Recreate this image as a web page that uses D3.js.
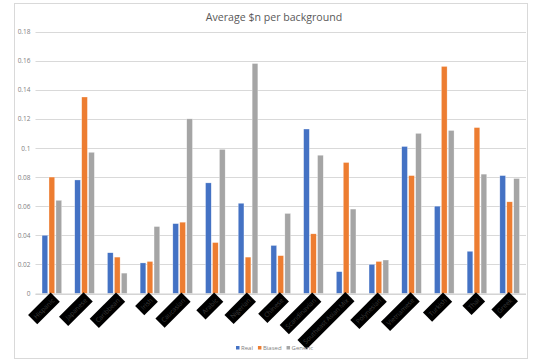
<!DOCTYPE html>
<html>
<head>
<meta charset="utf-8">
<script src="https://cdn.jsdelivr.net/npm/d3@7"></script>
<style>
  html, body { margin: 0; padding: 0; background: #fff; }
  svg { display: block; }
  text { font-family: "Open Sans", "Noto Sans", sans-serif; }
</style>
</head>
<body>
<svg id="chart" width="535" height="363"></svg>
<script>
// Background categories (x axis)
const categories = [
  "Hispanic", "Japanese", "Caribbean", "Irish", "Caucasian",
  "Arabic", "Nigerian", "Chinese", "Scandinavian", "Southeast Asian Mix",
  "Polynesian", "Vietnamese", "Turkish", "Thai", "Greek"
];

// Series names and colours
const seriesNames = ["Real", "Biased", "Generic"];
const seriesColors = ["#4472C4", "#ED7D31", "#A5A5A5"];

// Average $n per background, one array per series
const realValues    = [0.040, 0.078, 0.028, 0.021, 0.048, 0.076, 0.062, 0.033, 0.113, 0.015, 0.020, 0.101, 0.060, 0.029, 0.081];
const biasedValues  = [0.080, 0.135, 0.025, 0.022, 0.049, 0.035, 0.025, 0.026, 0.041, 0.090, 0.022, 0.081, 0.156, 0.114, 0.063];
const genericValues = [0.064, 0.097, 0.014, 0.046, 0.120, 0.099, 0.158, 0.055, 0.095, 0.058, 0.023, 0.110, 0.112, 0.082, 0.079];

// Y axis ticks
const yTicks = [0, 0.02, 0.04, 0.06, 0.08, 0.1, 0.12, 0.14, 0.16, 0.18];

const title = "Average $n per background";

const plot = { left: 35.5, right: 526, top: 31.5, bottom: 293.5 };

const svg = d3.select("#chart");

// Outer chart frame
svg.append("rect")
  .attr("x", 14.5).attr("y", 3.5)
  .attr("width", 513).attr("height", 355)
  .attr("fill", "#fff")
  .attr("stroke", "#d9d9d9")
  .attr("stroke-width", 1);

// Title
svg.append("text")
  .attr("x", 274).attr("y", 21)
  .attr("text-anchor", "middle")
  .attr("font-size", 10.6)
  .attr("fill", "#595959")
  .text(title);

// Scales
const y = d3.scaleLinear().domain([0, 0.18]).range([plot.bottom, plot.top]);
const x = d3.scaleBand().domain(categories).range([plot.left, plot.right])
  .paddingInner(0.4).paddingOuter(0.2);
const xs = d3.scaleBand().domain(seriesNames).range([0, x.bandwidth()]).paddingInner(0.18);

// Gridlines
svg.append("g")
  .selectAll("line")
  .data(yTicks)
  .join("line")
  .attr("x1", plot.left).attr("x2", plot.right)
  .attr("y1", d => Math.round(y(d)) + 0.5)
  .attr("y2", d => Math.round(y(d)) + 0.5)
  .attr("stroke", "#d9d9d9")
  .attr("stroke-width", 1);

// Y axis labels
const yAxis = d3.axisLeft(y)
  .tickValues(yTicks)
  .tickSize(0)
  .tickPadding(0)
  .tickFormat(d => d === 0 ? "0" : String(+d.toFixed(2)));

const yg = svg.append("g")
  .attr("transform", `translate(${plot.left - 5},0)`)
  .call(yAxis);
yg.select(".domain").remove();
yg.selectAll("text")
  .attr("font-size", 6.5)
  .attr("font-family", "'Open Sans', 'Noto Sans', sans-serif")
  .attr("fill", "#7f7f7f");

// Bars
const rows = categories.map((c, i) => ({
  category: c,
  values: [realValues[i], biasedValues[i], genericValues[i]]
}));

const groups = svg.append("g")
  .selectAll("g")
  .data(rows)
  .join("g")
  .attr("transform", d => `translate(${x(d.category)},0)`);

groups.selectAll("rect")
  .data(d => d.values.map((v, k) => ({ name: seriesNames[k], value: v, k })))
  .join("rect")
  .attr("x", d => xs(d.name))
  .attr("y", d => y(d.value))
  .attr("width", xs.bandwidth())
  .attr("height", d => y(0) - y(d.value))
  .attr("fill", d => seriesColors[d.k])
  .attr("stroke", "#ffffff")
  .attr("stroke-opacity", 0.6)
  .attr("stroke-width", 0.5);

// Baseline
svg.append("line")
  .attr("x1", plot.left).attr("x2", plot.right)
  .attr("y1", plot.bottom + 0.5).attr("y2", plot.bottom + 0.5)
  .attr("stroke", "#d0d0d0");

// Category labels: rotated, on dark label boxes
const labels = svg.append("g")
  .selectAll("g")
  .data(categories)
  .join("g")
  .attr("transform", d => `translate(${x(d) + x.bandwidth() / 2 + 3},301) rotate(-45)`);

labels.append("text")
  .attr("text-anchor", "end")
  .attr("font-size", 6.5)
  .attr("fill", "#3c3c3c")
  .text(d => d);

labels.each(function () {
  const g = d3.select(this);
  const bb = g.select("text").node().getBBox();
  g.insert("rect", "text")
    .attr("x", bb.x - 3)
    .attr("y", bb.y - 2)
    .attr("width", bb.width + 6)
    .attr("height", bb.height + 4)
    .attr("fill", "#000");
});

// Legend
const legend = svg.append("g").attr("transform", "translate(236,350)");
let lx = 0;
seriesNames.forEach((name, k) => {
  legend.append("rect")
    .attr("x", lx).attr("y", -4)
    .attr("width", 3.5).attr("height", 3.5)
    .attr("fill", seriesColors[k]);
  const t = legend.append("text")
    .attr("x", lx + 5).attr("y", 0)
    .attr("font-size", 6)
    .attr("fill", "#7f7f7f")
    .text(name);
  lx += 5 + t.node().getComputedTextLength() + 5;
});
</script>
</body>
</html>
